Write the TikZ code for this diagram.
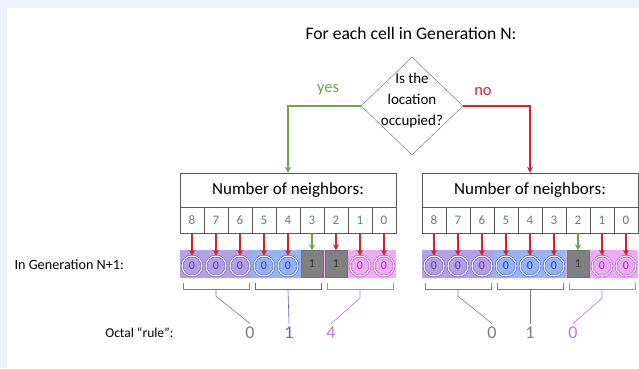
\documentclass[tikz,border=0pt]{standalone}
\usepackage{fontspec}
\setmainfont{Carlito}
\usetikzlibrary{arrows.meta,positioning,shapes.geometric}

\definecolor{pageblue}{RGB}{238,241,251}
\definecolor{lowgrp}{RGB}{178,160,232}
\definecolor{midgrp}{RGB}{150,180,245}
\definecolor{highgrp}{RGB}{236,172,242}
\definecolor{lowring}{RGB}{80,60,150}
\definecolor{midring}{RGB}{40,60,190}
\definecolor{highring}{RGB}{170,40,190}
\definecolor{yesgreen}{RGB}{110,165,70}
\definecolor{nored}{RGB}{222,30,40}
\definecolor{countgray}{RGB}{100,125,125}
\definecolor{rulegray}{RGB}{125,125,125}
\definecolor{ruleblue}{RGB}{95,95,205}
\definecolor{ruleviolet}{RGB}{195,115,225}

\begin{document}
\begin{tikzpicture}[x=1pt, y=-1pt,
    hdr/.style={draw=black!65, fill=white, minimum width=216pt, minimum height=34pt, inner sep=0pt, font=\fontsize{17}{19}\selectfont},
    cnt/.style={draw=black!65, fill=white, minimum width=24pt, minimum height=26pt, inner sep=0pt, text=countgray, font=\fontsize{13}{14}\selectfont},
    band/.style={fill=#1, minimum width=72pt, minimum height=28pt, inner sep=0pt},
    dead/.style={circle, draw=#1, double=#1!12, double distance=1.4pt, minimum size=20pt, inner sep=0pt, text=#1, font=\fontsize{12}{12}\selectfont},
    alive/.style={draw=black!55, fill=black!50, minimum width=22pt, minimum height=27pt, inner sep=0pt, text=black!80, font=\fontsize{12}{12}\selectfont},
    kill/.style={-{Stealth[length=6pt,width=6pt]}, nored, line width=1.6pt},
    keep/.style={-{Stealth[length=6pt,width=6pt]}, yesgreen, line width=1.6pt},
    brk/.style={draw=#1, line width=0.6pt},
    octal/.style={text=#1, font=\fontsize{18}{18}\selectfont}
]
% page
\fill[white] (0,0) rectangle (639,368);
\fill[pageblue] (0,0) rectangle (639,8);
\fill[pageblue] (0,0) rectangle (7,368);
\useasboundingbox (0,0) rectangle (639,368);

% question
\node[font=\fontsize{17.6}{20}\selectfont] (ttl) at (411,33) {For each cell in Generation N:};
\node[diamond, draw=black!60, fill=white, minimum width=102pt, minimum height=98pt, inner sep=0pt] (dia) at (412,106) {};
\node[align=center, inner sep=0pt, font=\fontsize{15}{21}\selectfont] (ask) at ([yshift=6pt]dia.center) {Is the\\location\\occupied?};
\node[text=yesgreen, font=\fontsize{16.5}{18}\selectfont] (yes) at (328,90) {yes};
\node[text=nored, font=\fontsize{16.5}{18}\selectfont] (no) at (483,92) {no};

% neighbour tables
\node[hdr] (lhdr) at (288,190) {Number of neighbors:\hspace{16pt}};
\node[hdr] (rhdr) at (530,190) {Number of neighbors:\hspace{16pt}};
\foreach \n [count=\i from 0] in {8,7,6,5,4,3,2,1,0} {
  \node[cnt] (l\n) at ({192+24*\i},220) {\n};
  \node[cnt] (r\n) at ({434+24*\i},220) {\n};
}
\draw[black!70, line width=1pt] (r6.north east) -- (r6.south east);

\draw[keep] (dia.west) -| (lhdr.north);
\draw[kill] (dia.east) -| (rhdr.north);

% next generation
\node[anchor=west, font=\fontsize{14.2}{16}\selectfont] (gen) at (11,265) {In Generation N+1:};
\node[band=lowgrp] (lA) at (216,264) {};
\node[band=midgrp] (lB) at (288,264) {};
\node[band=highgrp] (lC) at (360,264) {};
\node[band=lowgrp] (rA) at (458,264) {};
\node[band=midgrp] (rB) at (530,264) {};
\node[band=highgrp] (rC) at (602,264) {};

\foreach \n/\c in {8/lowring,7/lowring,6/lowring,5/midring,4/midring,1/highring,0/highring}
  \node[dead=\c] (lc\n) at ([yshift=-2pt]l\n |- lA) {0};
\node[alive] (lc3) at (l3 |- lA) {1};
\node[alive] (lc2) at (l2 |- lA) {1};
\foreach \n/\c in {8/lowring,7/lowring,6/lowring,5/midring,4/midring,3/midring,1/highring,0/highring}
  \node[dead=\c] (rc\n) at ([yshift=-2pt]r\n |- rA) {0};
\node[alive] (rc2) at (r2 |- rA) {1};

\foreach \n in {8,7,6,5,4,2,1,0}
  \draw[kill] (l\n.south) -- (lc\n.north);
\draw[keep] (l3.south) -- (lc3.north);
\foreach \n in {8,7,6,5,4,3,1,0}
  \draw[kill] (r\n.south) -- (rc\n.north);
\draw[keep] (r2.south) -- (rc2.north);

% octal digits
\node[anchor=east, font=\fontsize{13.5}{15}\selectfont] (oct) at (177,333) {Octal ``rule'':};
\node[octal=rulegray] (lo1) at (250,333) {0};
\node[octal=ruleblue] (lo2) at (289,333) {1};
\node[octal=ruleviolet] (lo3) at (331,333) {4};
\node[octal=rulegray] (ro1) at (492,333) {0};
\node[octal=rulegray] (ro2) at (530,333) {1};
\node[octal=ruleviolet] (ro3) at (573,333) {0};

\foreach \g/\c in {lA/rulegray,lB/ruleblue,lC/ruleviolet,rA/rulegray,rB/rulegray,rC/ruleviolet} {
  \draw[brk=\c] ([shift={(3,5)}]\g.south west) -- ++(0,6) -| ([shift={(-3,5)}]\g.south east);
  \coordinate (\g m) at ([shift={(0,11)}]\g.south);
}
\draw[brk=rulegray] (lAm) -- ++(0,7) -- (lo1.north);
\draw[brk=ruleblue] (lBm) -- (lo2.north);
\draw[brk=ruleviolet] (lCm) -- ++(0,9) -- (lo3.north);
\draw[brk=rulegray] (rAm) -- ++(0,7) -- (ro1.north);
\draw[brk=rulegray] (rBm) -- (ro2.north);
\draw[brk=ruleviolet] (rCm) -- ++(0,9) -- (ro3.north);
\end{tikzpicture}
\end{document}
